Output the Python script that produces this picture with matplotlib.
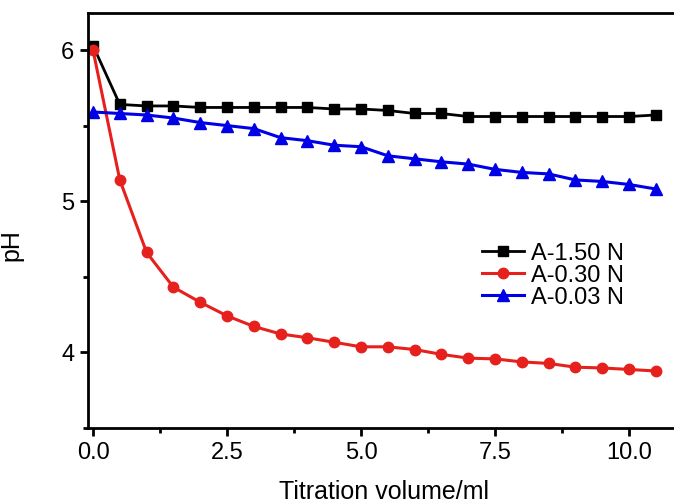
import matplotlib
matplotlib.use("Agg")
import matplotlib.pyplot as plt
from matplotlib.ticker import MultipleLocator

plt.rcParams['font.family'] = ['Liberation Sans', 'DejaVu Sans']

# titration volume (ml)
volume = [0.0, 0.5, 1.0, 1.5, 2.0, 2.5, 3.0, 3.5, 4.0, 4.5, 5.0,
          5.5, 6.0, 6.5, 7.0, 7.5, 8.0, 8.5, 9.0, 9.5, 10.0, 10.5]

ph_150 = [6.03, 5.64, 5.63, 5.63, 5.62, 5.62, 5.62, 5.62, 5.62, 5.61, 5.61,
          5.60, 5.58, 5.58, 5.56, 5.56, 5.56, 5.56, 5.56, 5.56, 5.56, 5.57]
ph_030 = [6.00, 5.14, 4.66, 4.43, 4.33, 4.24, 4.17, 4.12, 4.095, 4.065, 4.035,
          4.035, 4.017, 3.985, 3.96, 3.955, 3.935, 3.925, 3.90, 3.895, 3.885, 3.875]
ph_003 = [5.59, 5.58, 5.57, 5.55, 5.52, 5.50, 5.48, 5.42, 5.40, 5.37, 5.36,
          5.30, 5.28, 5.26, 5.245, 5.21, 5.19, 5.18, 5.14, 5.13, 5.11, 5.08]

labels = ["A-1.50 N", "A-0.30 N", "A-0.03 N"]

fig = plt.figure(figsize=(6.74, 5.03), dpi=100)
ax = fig.add_axes([0.1306, 0.149, 1.0 - 0.1306, 0.974 - 0.149])

ax.plot(volume, ph_150, color="black", lw=2, marker="s", ms=7, label=labels[0])
ax.plot(volume, ph_030, color="#e6201c", lw=2.2, marker="o", ms=7.5, label=labels[1])
ax.plot(volume, ph_003, color="#0000e6", lw=2.2, marker="^", ms=8, label=labels[2])

ax.set_xlim(-0.093, 10.84)
ax.set_ylim(3.497, 6.245)
ax.xaxis.set_major_locator(MultipleLocator(2.5))
ax.xaxis.set_minor_locator(MultipleLocator(1.25))
ax.yaxis.set_major_locator(MultipleLocator(1))
ax.yaxis.set_minor_locator(MultipleLocator(0.5))
ax.xaxis.set_major_formatter(plt.FuncFormatter(lambda v, p: f"{v:.1f}"))

for s in ["left", "top", "bottom"]:
    ax.spines[s].set_linewidth(2)
ax.spines["right"].set_visible(False)

ax.tick_params(which="major", direction="out", length=6, width=2, labelsize=17, pad=4)
ax.tick_params(which="minor", direction="out", length=3.5, width=2)

ax.set_xlabel("Titration volume/ml", fontsize=18)
ax.xaxis.set_label_coords(0.505, -0.125)
ax.set_ylabel("pH", fontsize=18)
ax.yaxis.set_label_coords(-0.11, 0.44)

ax.legend(loc="upper left", bbox_to_anchor=(0.652, 0.475), frameon=False, fontsize=17,
          handlelength=1.8, handletextpad=0.3, labelspacing=0.0, borderpad=0)

fig.savefig("out.png", dpi=100)
